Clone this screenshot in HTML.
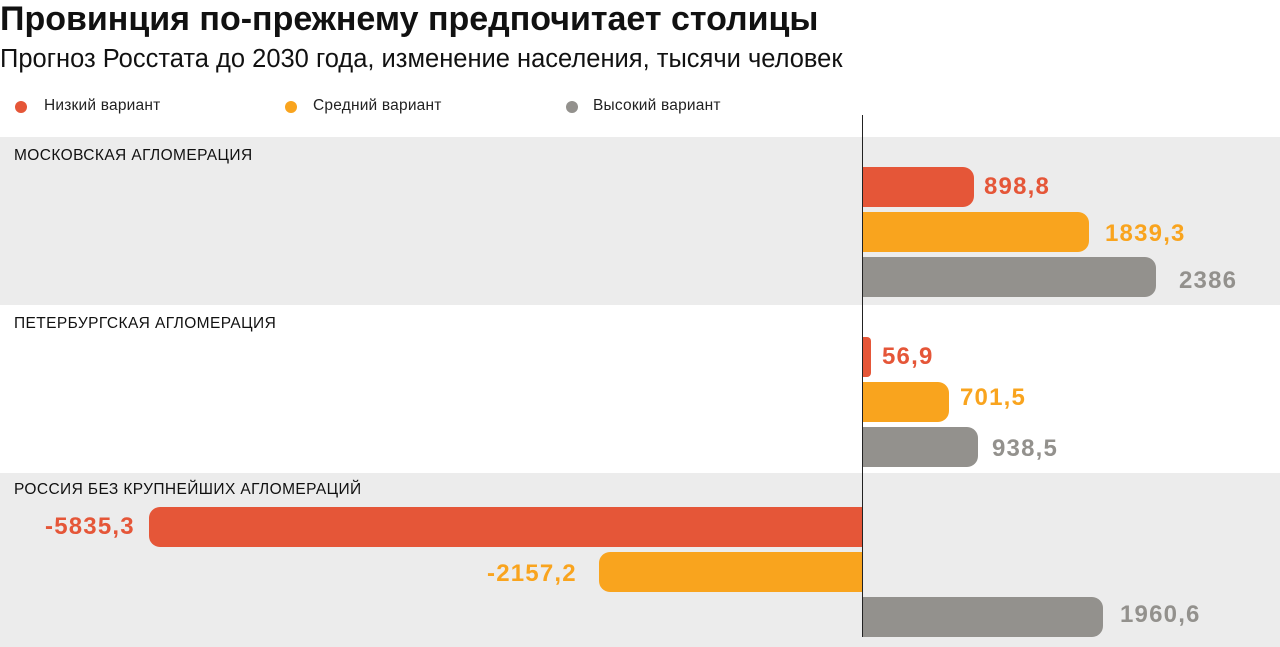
<!DOCTYPE html><html><head><meta charset="utf-8"><style>
body{margin:0;width:1280px;height:647px;background:#fff;position:relative;overflow:hidden;font-family:"Liberation Sans","DejaVu Sans",sans-serif;}
div{position:absolute;}
.t{left:0;top:0px;font-size:34px;font-weight:bold;color:#111;}
.s{left:0;top:45px;font-size:25.5px;color:#111;}
.dot{width:12px;height:12px;border-radius:50%;top:101px;}
.lg{top:97px;font-size:15.5px;color:#222;letter-spacing:0.2px}
.band{left:0;width:1280px;background:#ececec;}
.cat{left:14px;font-size:15.5px;color:#111;letter-spacing:0.4px}
.b{height:40px;}
.r{background:#e55638}.o{background:#f9a41e}.g{background:#93918d}
.pos{border-radius:0 11px 11px 0}.neg{border-radius:11px 0 0 11px}
.v{font-size:24px;font-weight:bold;line-height:40px;letter-spacing:1.2px}
.cr{color:#e55638}.co{color:#f9a41e}.cg{color:#93918d}
</style></head><body>
<div class="t">Провинция по-прежнему предпочитает столицы</div>
<div class="s">Прогноз Росстата до 2030 года, изменение населения, тысячи человек</div>
<div class="dot r" style="left:15px"></div><div class="lg" style="left:44px">Низкий вариант</div>
<div class="dot o" style="left:285px"></div><div class="lg" style="left:313px">Средний вариант</div>
<div class="dot g" style="left:566px"></div><div class="lg" style="left:593px">Высокий вариант</div>
<div class="band" style="top:137px;height:168px"></div>
<div class="band" style="top:473px;height:174px"></div>
<div class="cat" style="top:147px">МОСКОВСКАЯ АГЛОМЕРАЦИЯ</div>
<div class="cat" style="top:315px">ПЕТЕРБУРГСКАЯ АГЛОМЕРАЦИЯ</div>
<div class="cat" style="top:481px">РОССИЯ БЕЗ КРУПНЕЙШИХ АГЛОМЕРАЦИЙ</div>

<div class="b r pos" style="left:863px;top:167px;width:111px"></div><div class="v cr" style="left:984px;top:167px">898,8</div>
<div class="b o pos" style="left:863px;top:212px;width:226px"></div><div class="v co" style="left:1105px;top:214px">1839,3</div>
<div class="b g pos" style="left:863px;top:257px;width:293px"></div><div class="v cg" style="left:1179px;top:261px">2386</div>

<div class="b r pos" style="left:863px;top:337px;width:8px;border-radius:0 4px 4px 0"></div><div class="v cr" style="left:882px;top:337px">56,9</div>
<div class="b o pos" style="left:863px;top:382px;width:86px"></div><div class="v co" style="left:960px;top:378px">701,5</div>
<div class="b g pos" style="left:863px;top:427px;width:115px"></div><div class="v cg" style="left:992px;top:429px">938,5</div>

<div class="b r neg" style="left:149px;top:507px;width:714px"></div><div class="v cr" style="left:45px;top:507px">-5835,3</div>
<div class="b o neg" style="left:599px;top:552px;width:264px"></div><div class="v co" style="left:487px;top:554px">-2157,2</div>
<div class="b g pos" style="left:863px;top:597px;width:240px"></div><div class="v cg" style="left:1120px;top:595px">1960,6</div>

<div style="left:862px;top:115px;width:1px;height:522px;background:#222"></div>
</body></html>
